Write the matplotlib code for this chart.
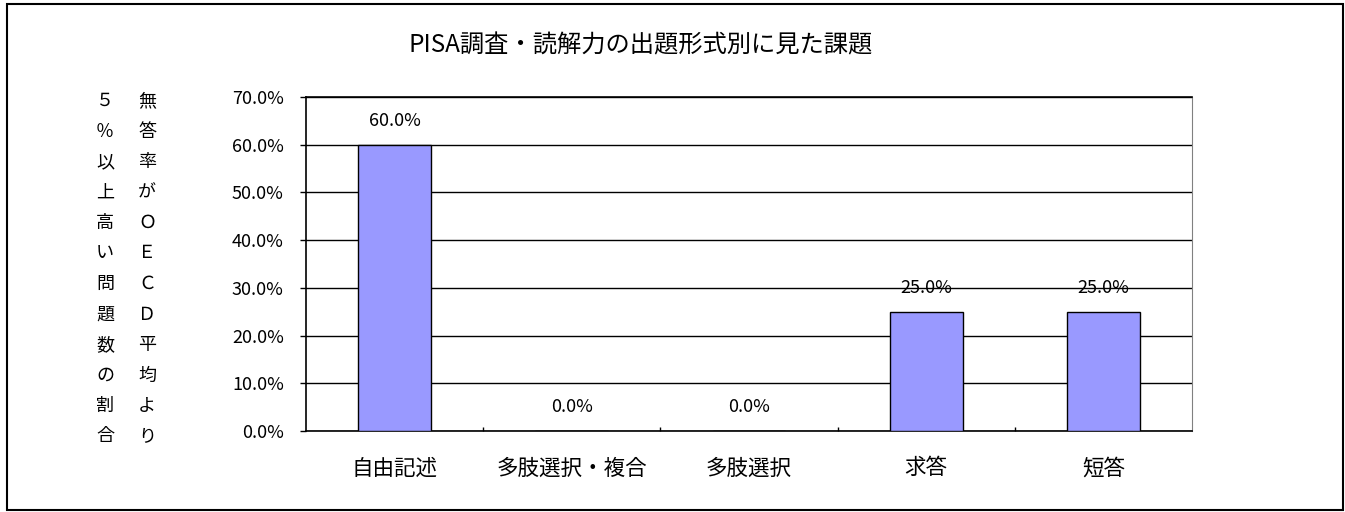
import matplotlib
matplotlib.use("Agg")
import matplotlib.pyplot as plt
from matplotlib.patches import Rectangle
from matplotlib.ticker import FixedLocator, PercentFormatter
import numpy as np

plt.rcParams['font.family'] = ['Noto Sans CJK JP', 'DejaVu Sans']

# === Data ===
title = "PISA調査・読解力の出題形式別に見た課題"
categories = ["自由記述", "多肢選択・複合", "多肢選択", "求答", "短答"]
values = [60.0, 0.0, 0.0, 25.0, 25.0]
yticks = [0, 10, 20, 30, 40, 50, 60, 70]
ylabel_right = "無答率がＯＥＣＤ平均より"
ylabel_left = "５％以上高い問題数の割合"

W, H = 1345, 512
fig = plt.figure(figsize=(W / 100, H / 100), dpi=100)

# outer frame
fig.patches.append(Rectangle((7 / W, 1 - 510 / H), (1343 - 7) / W, (510 - 4) / H,
                             transform=fig.transFigure, fill=False,
                             edgecolor="black", linewidth=1.5))

ax = fig.add_axes([306 / W, 1 - 431 / H, (1192 - 306) / W, (431 - 97) / H])

x = np.arange(len(categories))
bars = ax.bar(x, values, width=0.41, color="#9999FF", edgecolor="black",
              linewidth=1.0, zorder=3)

ax.set_xlim(-0.5, len(categories) - 0.5)
ax.set_ylim(0, 70)
ax.set_yticks(yticks)
ax.yaxis.set_major_formatter(PercentFormatter(decimals=1))
ax.grid(axis="y", color="black", linewidth=1.0, zorder=1)

ax.set_xticks(x)
ax.set_xticklabels(categories, fontsize=15.5)
ax.xaxis.set_minor_locator(FixedLocator(np.arange(0.5, len(categories) - 0.5, 1)))
ax.tick_params(axis="x", which="major", length=0, pad=19)
ax.tick_params(axis="x", which="minor", direction="in", length=3, width=1)
ax.tick_params(axis="y", length=4, width=1, pad=12, labelsize=13)

for side in ["left", "bottom", "top"]:
    ax.spines[side].set_color("black")
    ax.spines[side].set_linewidth(1.2)
ax.spines["right"].set_color("#808080")

for b, v in zip(bars, values):
    ax.annotate(f"{v:.1f}%", (b.get_x() + b.get_width() / 2, v),
                xytext=(0, 17), textcoords="offset points",
                ha="center", va="center", fontsize=13, zorder=4)

fig.text(641 / W, 1 - 45 / H, title, ha="center", va="center", fontsize=17.5)

# vertical y-axis label, two columns read right to left
top_y, pitch = 101, 30.5
for i, (cr, cl) in enumerate(zip(ylabel_right, ylabel_left)):
    yy = 1 - (top_y + i * pitch) / H
    fig.text(147 / W, yy, cr, ha="center", va="center", fontsize=13)
    fig.text(105 / W, yy, cl, ha="center", va="center", fontsize=13)

fig.savefig("out.png", dpi=100)
